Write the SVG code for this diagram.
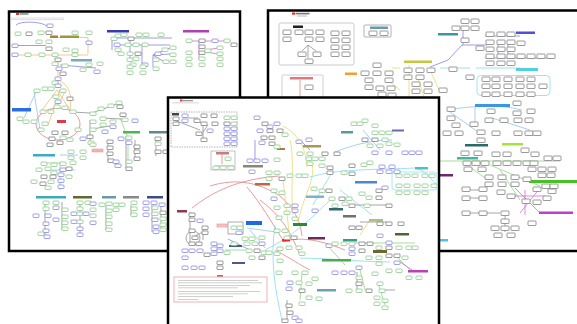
<svg xmlns="http://www.w3.org/2000/svg" xmlns:xlink="http://www.w3.org/1999/xlink" width="577" height="324" viewBox="0 0 577 324">
<style>
.frame{fill:#fff;stroke:#000;stroke-width:2.5}
.g{fill:#fff;stroke:#84c884;stroke-width:.75}
.b{fill:#fff;stroke:#8080e0;stroke-width:.75}
.k{fill:#fff;stroke:#7a7a7a;stroke-width:.75}
.ln{fill:none;stroke-width:.8}
.or{stroke:#f0bc70}.bl{stroke:#8484e6}.gr{stroke:#909090}.rd{stroke:#e68282}.cy{stroke:#84dcec}.ye{stroke:#e8d870}.gn{stroke:#90d480}.mg{stroke:#d070d0}.lb{stroke:#94c2ec}
.txt{fill:#bbb}
</style>
<defs>
<rect id="g" width="6" height="3.5" rx=".8" class="g"/>
<rect id="b" width="6" height="3.5" rx=".8" class="b"/>
<rect id="k" width="6" height="3.5" rx=".3" class="k"/>
<rect id="K" width="8" height="4.5" rx=".5" class="k"/>
</defs>

<!-- FRAME 1 -->
<g id="frame1">
<rect class="frame" x="9" y="11.5" width="231" height="239.5"/>
<rect x="16" y="13" width="3" height="2" fill="#e03030"/>
<rect x="19.5" y="13.2" width="9" height="1.5" fill="#888"/>
<rect x="10.5" y="18" width="53" height="1.8" fill="#fff" stroke="#bbb" stroke-width=".5"/>
<g id="f1-connectors">
<path class="ln bl" d="M16,25 C20,21 40,21 47,26 M14,45.5 H46 M112,38 H172 M115,45 H170 M112,38 V50 M153,55 L170,48 M153,55 L170,54 M153,55 L163,61 M153,55 L153,67 M130,40 V58 M142,45 V64 M60,65 L96,68"/>
<path class="ln or" d="M50,37.5 H88 V54 M15,55 H88 M58,62 V88 M57,90 L42,110 M57,90 L70,110 M60,90 L48,125 M66,90 L56,108 M58,80 C70,85 72,95 70,110"/>
<path class="ln lb" d="M34,92 L40,130 M36,92 L24,118 M60,155 H78 M60,162 V190 M45,170 H75"/>
<ellipse class="ln rd" cx="58" cy="124" rx="22" ry="16"/>
<path class="ln gr" d="M72,112 L90,113 M92,113 L117,104 M100,118 L122,119 M90,120 V142 M92,129 L110,126 M108,140 V162 M126,136 V168 M135,140 V160 M156,137 V156 M45,202 V236 M62,202 V230 M80,202 V236 M106,206 V230 M131,205 V215 M152,205 V232 M161,205 V230"/>
<path class="ln mg" d="M186,41 H231 M199,41 V60 M206,50 L218,48 M206,52 L218,54"/>
<path class="ln gn" d="M120,118 L128,138 M128,140 V160 M43,163 H66"/>
</g>
<g id="f1-bars">
<rect x="50" y="35.5" width="8" height="2.5" fill="#a8843a"/>
<rect x="60" y="35.5" width="19" height="2.5" fill="#9a9a3a"/>
<rect x="107" y="30" width="22" height="2.5" fill="#3a3ab0"/>
<rect x="183" y="30" width="26" height="2.5" fill="#b040b0"/>
<rect x="71" y="59" width="21" height="2.5" fill="#7aa8c0"/>
<rect x="12" y="108" width="19" height="3.5" fill="#2a6ee0"/>
<rect x="57" y="120" width="9" height="3" fill="#e03a4a"/>
<rect x="123" y="131" width="17" height="2.5" fill="#4cb84c"/>
<rect x="149" y="131" width="18" height="2.5" fill="#5f8a8a"/>
<rect x="92" y="149" width="11" height="3" fill="#f4b4b4" stroke="#e98a8a" stroke-width=".5"/>
<rect x="33" y="154" width="22" height="2.5" fill="#40a8c8"/>
<rect x="36" y="196" width="30" height="2.5" fill="#40a8b8"/>
<rect x="73" y="196" width="19" height="2.5" fill="#606a30"/>
<rect x="102" y="196" width="14" height="2.5" fill="#6a9aa8"/>
<rect x="123" y="196" width="16" height="2.5" fill="#888"/>
<rect x="147" y="196" width="16" height="2.5" fill="#3a4a8a"/>
</g>
<g id="f1-nodes">
<use href="#g" x="15" y="32"/><use href="#k" x="26" y="32"/><use href="#g" x="38" y="31"/><use href="#k" x="46" y="31"/><use href="#g" x="72" y="31"/><use href="#g" x="86" y="31"/>
<use href="#b" x="47" y="24"/><use href="#g" x="36" y="40"/><use href="#g" x="46" y="40"/><use href="#b" x="86" y="41"/><use href="#b" x="12" y="44"/>
<use href="#k" x="46" y="47"/><use href="#g" x="63" y="48"/><use href="#g" x="72" y="49"/><use href="#b" x="12" y="53"/><use href="#g" x="25" y="53"/><use href="#g" x="39" y="53"/><use href="#g" x="52" y="53"/><use href="#g" x="72" y="53"/>
<use href="#k" x="55" y="58"/><use href="#g" x="52" y="62"/><use href="#g" x="62" y="64"/><use href="#g" x="86" y="63"/><use href="#g" x="97" y="62"/><use href="#b" x="56" y="67"/><use href="#b" x="94" y="70"/><use href="#k" x="60" y="72"/><use href="#g" x="80" y="68"/>
<use href="#b" x="55" y="77"/><use href="#g" x="52" y="81"/><use href="#b" x="55" y="84"/><use href="#g" x="53" y="95"/><use href="#b" x="55" y="100"/><use href="#k" x="67" y="97"/>
<use href="#g" x="34" y="89"/><use href="#g" x="42" y="87"/><use href="#g" x="48" y="87"/><use href="#g" x="60" y="89"/>
<use href="#g" x="54" y="105"/><use href="#g" x="62" y="106"/><use href="#g" x="40" y="110"/><use href="#g" x="48" y="110"/><use href="#g" x="70" y="110"/>
<use href="#g" x="38" y="128"/><use href="#g" x="42" y="122"/><use href="#g" x="75" y="128"/><use href="#g" x="60" y="136"/><use href="#g" x="67" y="138"/>
<use href="#k" x="52" y="131"/><use href="#k" x="62" y="131"/><use href="#k" x="49" y="137"/><use href="#k" x="57" y="141"/><use href="#k" x="47" y="143"/><use href="#b" x="80" y="137"/><use href="#g" x="88" y="141"/>
<use href="#g" x="17" y="117"/><use href="#g" x="23" y="120"/><use href="#g" x="31" y="120"/>
<use href="#g" x="90" y="112"/><use href="#g" x="98" y="107"/><use href="#g" x="108" y="104"/><use href="#g" x="116" y="101"/><use href="#k" x="117" y="105"/><use href="#k" x="120" y="113"/>
<use href="#g" x="100" y="117"/><use href="#g" x="90" y="120"/><use href="#g" x="90" y="128"/><use href="#g" x="100" y="123"/><use href="#g" x="110" y="120"/><use href="#g" x="122" y="118"/><use href="#b" x="132" y="119"/><use href="#b" x="110" y="125"/><use href="#b" x="102" y="130"/>
<use href="#k" x="87" y="135"/><use href="#g" x="90" y="143"/><use href="#k" x="107" y="140"/><use href="#k" x="107" y="146"/><use href="#k" x="107" y="152"/><use href="#k" x="108" y="159"/><use href="#b" x="113" y="160"/><use href="#b" x="115" y="164"/>
<use href="#b" x="118" y="137"/><use href="#g" x="126" y="136"/><use href="#b" x="126" y="141"/><use href="#k" x="134" y="145"/><use href="#k" x="134" y="150"/><use href="#k" x="134" y="157"/><use href="#g" x="126" y="160"/><use href="#k" x="126" y="167"/>
<use href="#k" x="155" y="137"/><use href="#g" x="155" y="142"/><use href="#k" x="155" y="150"/><use href="#k" x="163" y="150"/>
<use href="#g" x="68" y="150"/><use href="#g" x="80" y="150"/><use href="#g" x="68" y="156"/><use href="#g" x="80" y="156"/><use href="#g" x="70" y="161"/>
<use href="#g" x="41" y="162"/><use href="#g" x="51" y="163"/><use href="#g" x="60" y="162"/><use href="#g" x="36" y="168"/><use href="#g" x="45" y="167"/><use href="#g" x="51" y="171"/><use href="#b" x="60" y="168"/><use href="#k" x="66" y="167"/>
<use href="#k" x="41" y="175"/><use href="#k" x="50" y="175"/><use href="#b" x="58" y="173"/><use href="#g" x="66" y="175"/><use href="#b" x="58" y="179"/><use href="#g" x="31" y="180"/><use href="#g" x="48" y="180"/><use href="#k" x="40" y="182"/><use href="#g" x="45" y="186"/><use href="#b" x="58" y="185"/>
<use href="#g" x="115" y="34"/><use href="#g" x="121" y="33"/><use href="#k" x="128" y="37"/><use href="#g" x="136" y="33"/><use href="#g" x="143" y="33"/><use href="#g" x="158" y="33"/><use href="#g" x="111" y="37"/>
<use href="#b" x="114" y="43"/><use href="#g" x="125" y="43"/><use href="#g" x="133" y="43"/><use href="#g" x="142" y="43"/><use href="#g" x="115" y="48"/>
<use href="#g" x="118" y="52"/><use href="#g" x="127" y="52"/><use href="#k" x="135" y="52"/><use href="#b" x="155" y="52"/><use href="#g" x="162" y="48"/><use href="#g" x="170" y="46"/><use href="#g" x="170" y="53"/>
<use href="#g" x="127" y="58"/><use href="#g" x="133" y="57"/><use href="#g" x="153" y="58"/><use href="#g" x="163" y="60"/><use href="#g" x="170" y="60"/><use href="#g" x="130" y="63"/><use href="#b" x="142" y="63"/><use href="#g" x="153" y="67"/>
<use href="#g" x="127" y="65"/><use href="#g" x="140" y="65"/><use href="#g" x="127" y="71"/><use href="#g" x="140" y="71"/>
<use href="#g" x="186" y="39"/><use href="#k" x="199" y="39"/><use href="#b" x="212" y="39"/><use href="#g" x="224" y="39"/><use href="#k" x="231" y="43"/>
<use href="#k" x="199" y="45"/><use href="#g" x="186" y="51"/><use href="#k" x="199" y="51"/><use href="#g" x="205" y="49"/><use href="#g" x="217" y="46"/><use href="#g" x="217" y="52"/>
<use href="#g" x="186" y="57"/><use href="#g" x="199" y="57"/><use href="#g" x="217" y="57"/><use href="#g" x="186" y="63"/><use href="#g" x="199" y="63"/><use href="#g" x="217" y="63"/>
<use href="#g" x="43" y="201"/><use href="#g" x="53" y="201"/><use href="#b" x="53" y="206"/><use href="#g" x="43" y="207"/><use href="#g" x="62" y="208"/>
<use href="#b" x="33" y="214"/><use href="#b" x="45" y="214"/><use href="#b" x="53" y="218"/><use href="#g" x="62" y="215"/><use href="#g" x="62" y="221"/><use href="#g" x="62" y="227"/>
<use href="#b" x="43" y="222"/><use href="#b" x="43" y="229"/><use href="#g" x="38" y="232"/><use href="#b" x="44" y="235"/>
<use href="#g" x="77" y="201"/><use href="#g" x="85" y="201"/><use href="#b" x="90" y="202"/><use href="#g" x="77" y="207"/><use href="#g" x="90" y="208"/>
<use href="#b" x="71" y="212"/><use href="#g" x="77" y="212"/><use href="#b" x="83" y="212"/><use href="#g" x="90" y="214"/><use href="#b" x="71" y="220"/><use href="#g" x="77" y="220"/><use href="#b" x="90" y="221"/><use href="#b" x="77" y="227"/><use href="#b" x="77" y="233"/>
<use href="#g" x="99" y="203"/><use href="#g" x="106" y="202"/><use href="#g" x="113" y="203"/><use href="#g" x="119" y="203"/><use href="#g" x="106" y="209"/><use href="#g" x="113" y="208"/><use href="#g" x="106" y="215"/><use href="#g" x="106" y="222"/><use href="#g" x="106" y="228"/>
<use href="#g" x="131" y="201"/><use href="#g" x="131" y="207"/><use href="#g" x="131" y="213"/>
<use href="#b" x="143" y="201"/><use href="#b" x="151" y="201"/><use href="#b" x="143" y="207"/><use href="#g" x="152" y="206"/><use href="#b" x="159" y="203"/>
<use href="#b" x="143" y="213"/><use href="#g" x="152" y="212"/><use href="#k" x="160" y="211"/><use href="#b" x="152" y="218"/><use href="#g" x="160" y="217"/><use href="#b" x="153" y="225"/><use href="#g" x="160" y="223"/><use href="#g" x="160" y="228"/><use href="#b" x="153" y="230"/>
</g>
</g>

<!-- FRAME 2 -->
<g id="frame2">
<rect class="frame" x="268" y="10.5" width="320" height="240.5"/>
<rect x="292" y="12.5" width="3" height="2.2" fill="#e03030"/>
<rect x="295.5" y="12.8" width="14" height="1.6" fill="#777"/>
<rect x="297" y="15.5" width="10" height="1" fill="#bbb"/>
<rect x="279" y="23" width="75" height="42" rx="2" fill="#fff" stroke="#c4c4c4" stroke-width=".9"/>
<rect x="293" y="25.5" width="10" height="2.5" fill="#222"/>
<rect x="364" y="25" width="27" height="12" rx="1" fill="#fff" stroke="#a0a0a0" stroke-width=".8"/>
<rect x="370" y="26.5" width="18" height="2.5" fill="#6a9aa8"/>
<rect x="282" y="75" width="41" height="30" rx="1" fill="#fff" stroke="#c4c4c4" stroke-width=".8"/>
<rect x="290" y="77" width="23" height="2.5" fill="#e07a7a"/>
<g id="f2-connectors">
<path class="ln rd" d="M300,80 V100"/>
<path class="ln gr" d="M308,45 L302,51 M308,45 L316,51 M308,45 V58"/>
<path class="ln ye" d="M392,68 H400 M409,65 V100 M430,70 L440,92 M418,79 L425,100 M385,78 L400,90"/>
<path class="ln bl" d="M430,67 L448,60 L462,45 L487,45 M463,28 V45 M485,36 H520 M485,58 H552 M498,44 V58 M508,44 V58"/>
<path class="ln cy" d="M440,68 H470 M476,68 H520"/>
<rect x="477" y="75.5" width="73" height="20" rx="4" fill="none" stroke="#a0e4f0" stroke-width="1"/>
<path class="ln lb" d="M447,110 C470,106 500,104 522,110 M475,107 V125 M450,112 L478,132 M492,118 L530,130"/>
<path class="ln gn" d="M440,161 H560 M490,165 L540,186 M500,170 L520,200 M470,167 L485,178"/>
<path class="ln mg" d="M515,188 L540,213 M520,213 L540,188 M510,196 H545 M525,190 V215"/>
<path class="ln gr" d="M463,190 H480 M463,198 H480 M463,213 H500 M505,216 V232"/>
</g>
<g id="f2-bars">
<rect x="345" y="72.5" width="12" height="2.5" fill="#f0a030"/>
<rect x="404" y="60.5" width="28" height="2.5" fill="#c8c840"/>
<rect x="438" y="33" width="20" height="2.5" fill="#3a9a9a"/>
<rect x="516" y="31.5" width="19" height="2.5" fill="#5050d0"/>
<rect x="516" y="68" width="22" height="3" fill="#50d0e0"/>
<rect x="475" y="104" width="35" height="3" fill="#3a98e0"/>
<rect x="465" y="144" width="23" height="2.5" fill="#2a6a6a"/>
<rect x="502" y="143" width="21" height="2.5" fill="#a8e040"/>
<rect x="457" y="157" width="21" height="2.5" fill="#40b8a0"/>
<rect x="529" y="180" width="48" height="3" fill="#48c028"/>
<rect x="539" y="211.5" width="34" height="2.5" fill="#c040c8"/>
<rect x="440" y="174" width="13" height="2.5" fill="#6a2a6a"/>
<rect x="440" y="239" width="8" height="2.5" fill="#50c0e0"/>
</g>
<g id="f2-nodes">
<use href="#K" x="283" y="30"/><use href="#K" x="295" y="30"/><use href="#K" x="305" y="30"/><use href="#K" x="316" y="30"/><use href="#K" x="283" y="37"/><use href="#K" x="305" y="37"/><use href="#K" x="316" y="37"/>
<use href="#K" x="331" y="31"/><use href="#K" x="342" y="31"/><use href="#K" x="331" y="38"/><use href="#K" x="342" y="38"/><use href="#K" x="331" y="45"/><use href="#K" x="342" y="45"/><use href="#K" x="331" y="52"/><use href="#K" x="342" y="52"/>
<use href="#K" x="298" y="52"/><use href="#K" x="313" y="52"/><use href="#K" x="305" y="59"/>
<use href="#K" x="369" y="31"/><use href="#K" x="380" y="31"/><use href="#K" x="305" y="85"/>
<use href="#K" x="361" y="71"/><use href="#K" x="373" y="71"/><use href="#K" x="385" y="71"/><use href="#K" x="373" y="63"/><use href="#K" x="365" y="78"/><use href="#K" x="385" y="78"/><use href="#K" x="365" y="85"/><use href="#K" x="376" y="86"/><use href="#K" x="387" y="86"/><use href="#K" x="378" y="92"/><use href="#K" x="388" y="93"/>
<use href="#K" x="404" y="68"/><use href="#K" x="416" y="68"/><use href="#K" x="427" y="68"/><use href="#K" x="404" y="75"/><use href="#K" x="416" y="75"/><use href="#K" x="412" y="82"/><use href="#K" x="424" y="82"/><use href="#K" x="412" y="89"/><use href="#K" x="424" y="89"/><use href="#K" x="439" y="88"/><use href="#K" x="449" y="67"/><use href="#K" x="466" y="75"/>
<use href="#K" x="461" y="19"/><use href="#K" x="471" y="19"/><use href="#K" x="452" y="26"/><use href="#K" x="461" y="26"/><use href="#K" x="471" y="26"/><use href="#K" x="461" y="38"/><use href="#K" x="476" y="46"/>
<use href="#K" x="486" y="32"/><use href="#K" x="497" y="32"/><use href="#K" x="507" y="32"/><use href="#K" x="486" y="40"/><use href="#K" x="497" y="40"/><use href="#K" x="507" y="40"/><use href="#K" x="517" y="41"/>
<use href="#K" x="486" y="47"/><use href="#K" x="497" y="47"/><use href="#K" x="507" y="47"/><use href="#K" x="486" y="54"/><use href="#K" x="497" y="54"/><use href="#K" x="507" y="54"/><use href="#K" x="517" y="54"/><use href="#K" x="527" y="54"/><use href="#K" x="537" y="54"/><use href="#K" x="547" y="54"/>
<use href="#K" x="486" y="61"/><use href="#K" x="497" y="61"/><use href="#K" x="507" y="61"/>
<use href="#K" x="482" y="77"/><use href="#K" x="492" y="77"/><use href="#K" x="504" y="77"/><use href="#K" x="516" y="77"/><use href="#K" x="527" y="77"/>
<use href="#K" x="482" y="84"/><use href="#K" x="492" y="84"/><use href="#K" x="504" y="84"/><use href="#K" x="516" y="84"/><use href="#K" x="527" y="84"/><use href="#K" x="539" y="84"/>
<use href="#K" x="482" y="92"/><use href="#K" x="492" y="92"/><use href="#K" x="504" y="92"/><use href="#K" x="516" y="92"/><use href="#K" x="527" y="92"/>
<use href="#K" x="513" y="101"/><use href="#K" x="513" y="111"/><use href="#K" x="527" y="109"/><use href="#K" x="487" y="109"/><use href="#K" x="447" y="107"/><use href="#K" x="447" y="116"/><use href="#K" x="452" y="123"/><use href="#K" x="443" y="131"/><use href="#K" x="455" y="131"/>
<use href="#K" x="470" y="122"/><use href="#K" x="477" y="130"/><use href="#K" x="485" y="118"/><use href="#K" x="500" y="118"/><use href="#K" x="514" y="118"/><use href="#K" x="525" y="118"/><use href="#K" x="492" y="131"/><use href="#K" x="514" y="131"/><use href="#K" x="525" y="131"/><use href="#K" x="533" y="131"/><use href="#K" x="477" y="138"/>
<use href="#K" x="461" y="151"/><use href="#K" x="474" y="151"/><use href="#K" x="492" y="152"/><use href="#K" x="503" y="152"/><use href="#K" x="521" y="148"/><use href="#K" x="531" y="152"/><use href="#K" x="544" y="156"/><use href="#K" x="553" y="156"/>
<use href="#K" x="463" y="161"/><use href="#K" x="472" y="161"/><use href="#K" x="481" y="161"/><use href="#K" x="493" y="161"/><use href="#K" x="503" y="161"/><use href="#K" x="513" y="161"/><use href="#K" x="523" y="161"/><use href="#K" x="530" y="161"/>
<use href="#K" x="528" y="167"/><use href="#K" x="538" y="167"/><use href="#K" x="548" y="167"/><use href="#K" x="464" y="167"/><use href="#K" x="478" y="167"/><use href="#K" x="538" y="173"/><use href="#K" x="547" y="173"/>
<use href="#K" x="485" y="175"/><use href="#K" x="498" y="175"/><use href="#K" x="511" y="175"/><use href="#K" x="523" y="177"/><use href="#K" x="485" y="182"/><use href="#K" x="498" y="182"/><use href="#K" x="511" y="182"/><use href="#K" x="542" y="184"/><use href="#K" x="550" y="184"/>
<use href="#K" x="462" y="187"/><use href="#K" x="479" y="187"/><use href="#K" x="462" y="196"/><use href="#K" x="479" y="196"/><use href="#K" x="462" y="211"/><use href="#K" x="479" y="211"/><use href="#K" x="501" y="211"/><use href="#K" x="501" y="219"/>
<use href="#K" x="491" y="226"/><use href="#K" x="501" y="226"/><use href="#K" x="511" y="226"/><use href="#K" x="494" y="233"/><use href="#K" x="507" y="233"/>
<use href="#K" x="497" y="190"/><use href="#K" x="507" y="194"/><use href="#K" x="522" y="199"/><use href="#K" x="533" y="200"/><use href="#K" x="533" y="187"/><use href="#K" x="548" y="189"/><use href="#K" x="543" y="196"/><use href="#K" x="528" y="221"/>
</g>
</g>

<!-- FRAME 3 -->
<g id="frame3">
<rect class="frame" x="168" y="97.5" width="271" height="240"/>
<rect x="180" y="99.5" width="2.5" height="2" fill="#e03030"/>
<rect x="183" y="100" width="10" height="1.3" fill="#999"/>
<rect x="172" y="102.5" width="27" height=".8" fill="#ccc"/>
<rect x="171" y="112" width="66" height="35" fill="#fff" stroke="#999" stroke-width=".7" stroke-dasharray="1.5,1"/>
<rect x="172" y="113" width="7" height="2.5" fill="#444"/>
<rect x="211" y="151" width="24" height="19" fill="#fff" stroke="#aaa" stroke-width=".7"/>
<rect x="216" y="152" width="13" height="2.5" fill="#c08080"/>
<g id="f3-connectors">
<path class="ln gr" d="M188,118 H198 M198,120 L204,126 M208,125 L203,132 M203,126 V139 M174,120 L200,130"/>
<path class="ln rd" d="M222,154 V164 M215,166 H234 M192,208 C212,192 238,179 279,176 M210,186 C236,178 258,182 280,196 C294,208 300,220 302,236 M247,187 C262,205 270,220 283,240 M283,242 C300,236 320,240 345,250 M275,250 C290,258 300,265 310,270 M260,200 C280,215 290,230 300,255"/>
<path class="ln ye" d="M283,126 C300,135 306,150 307,167 M290,140 C295,160 290,190 293,215 M310,160 C320,175 300,200 298,225 M283,180 L290,240 M370,220 L360,235"/>
<path class="ln cy" d="M333,170 C325,185 318,195 313,205 M310,177 C340,168 380,170 415,168 C425,170 430,178 436,184 M330,200 C310,220 290,238 265,250 M275,225 C270,260 275,290 282,320 M340,190 L372,215 M300,258 C330,258 360,262 390,262"/>
<path class="ln lb" d="M335,152 C350,146 370,140 392,140 M363,130 L380,150 M247,228 L276,232 M250,230 L265,248"/>
<path class="ln bl" d="M228,239 L250,250 M255,140 V160 M300,140 L310,150"/>
<path class="ln gn" d="M350,243 H415 M395,255 L410,270 M360,270 L365,290 M327,245 L345,265 M378,283 L385,305 M302,273 L300,300 M225,250 L245,250"/>
<path class="ln gr" d="M190,212 V244 M193,237 L203,232 M203,227 V240 M350,205 H388 M360,222 H387 M380,290 H395 M357,272 V290 M287,300 V320"/>
<ellipse class="ln gr" cx="193" cy="238" rx="7" ry="7"/>
<path class="ln mg" d="M400,262 L415,272"/>
<rect x="392" y="172" width="45" height="18" rx="3" fill="none" stroke="#a0e4f0" stroke-width=".9"/>
<rect x="228" y="222" width="15" height="12" fill="none" stroke="#888" stroke-width=".7"/>
</g>
<g id="f3-bars">
<rect x="303" y="145" width="18" height="2.5" fill="#a89a50"/>
<rect x="277" y="148" width="8" height="2" fill="#b07a3a"/>
<rect x="243" y="165" width="20" height="2.5" fill="#8a8a6a"/>
<rect x="341" y="131" width="12" height="2.5" fill="#5a9a9a"/>
<rect x="392" y="129.5" width="12" height="2" fill="#6a6ab0"/>
<rect x="415" y="167" width="13" height="2.5" fill="#50c0c8"/>
<rect x="255" y="183" width="15" height="2.5" fill="#b86a40"/>
<rect x="355" y="181" width="22" height="2.5" fill="#4a88c8"/>
<rect x="306" y="195.5" width="18" height="2.5" fill="#80b0d0"/>
<rect x="329" y="208" width="14" height="2.5" fill="#306a6a"/>
<rect x="343" y="215" width="13" height="2.5" fill="#707070"/>
<rect x="177" y="210" width="10" height="2.5" fill="#8a3a4a"/>
<rect x="217" y="224" width="10" height="3" fill="#f6c6c6" stroke="#e08080" stroke-width=".5"/>
<rect x="246" y="221" width="16" height="4" fill="#1a6ae0"/>
<rect x="293" y="223" width="14" height="3" fill="#2a8a3a"/>
<rect x="369" y="219" width="14" height="2.5" fill="#a8c080"/>
<rect x="395" y="233" width="14" height="2.5" fill="#4a6a2a"/>
<rect x="308" y="237" width="17" height="2.5" fill="#6a2a5a"/>
<rect x="282" y="239" width="8" height="2.5" fill="#e03030"/>
<rect x="343" y="239" width="14" height="2.5" fill="#3a9a8a"/>
<rect x="229" y="245" width="13" height="2" fill="#3a6a6a"/>
<rect x="373" y="250" width="14" height="3" fill="#6a6a30"/>
<rect x="322" y="259" width="29" height="2.5" fill="#50a850"/>
<rect x="232" y="262" width="13" height="2" fill="#4a5a8a"/>
<rect x="408" y="270" width="20" height="2.5" fill="#b840b8"/>
<rect x="317" y="289" width="19" height="2.5" fill="#70a0b0"/>
</g>
<g id="f3-legend">
<rect x="174" y="277" width="93" height="25" fill="#fff" stroke="#e8a0a0" stroke-width=".8"/>
<rect x="217" y="275" width="6" height="1.6" fill="#d06060"/>
<rect x="178" y="280" width="80" height=".7" class="txt"/>
<rect x="178" y="282.5" width="84" height=".7" class="txt"/>
<rect x="178" y="285" width="72" height=".7" class="txt"/>
<rect x="178" y="287.5" width="60" height=".7" class="txt"/>
<rect x="178" y="291" width="82" height=".7" class="txt"/>
<rect x="178" y="293.5" width="70" height=".7" class="txt"/>
<rect x="178" y="296" width="55" height=".7" class="txt"/>
<rect x="178" y="299" width="20" height=".7" class="txt"/>
</g>
<g id="f3-nodes">
<use href="#b" x="182" y="114"/><use href="#b" x="182" y="119"/><use href="#k" x="173" y="117"/><use href="#k" x="173" y="122"/><use href="#k" x="194" y="119"/><use href="#k" x="201" y="114"/><use href="#k" x="211" y="114"/><use href="#k" x="201" y="122"/><use href="#k" x="212" y="122"/><use href="#b" x="207" y="129"/><use href="#k" x="196" y="132"/><use href="#k" x="201" y="138"/>
<use href="#g" x="224" y="116"/><use href="#g" x="231" y="116"/><use href="#k" x="224" y="122"/><use href="#g" x="231" y="122"/><use href="#b" x="224" y="127"/><use href="#b" x="231" y="127"/><use href="#b" x="224" y="132"/><use href="#b" x="231" y="132"/><use href="#b" x="224" y="137"/><use href="#b" x="231" y="137"/><use href="#b" x="224" y="142"/><use href="#b" x="231" y="142"/>
<use href="#g" x="225" y="157"/><use href="#g" x="213" y="166"/><use href="#g" x="220" y="166"/><use href="#g" x="228" y="166"/>
<use href="#b" x="254" y="116"/><use href="#k" x="262" y="122"/><use href="#b" x="274" y="122"/><use href="#b" x="267" y="125"/><use href="#b" x="257" y="129"/><use href="#k" x="267" y="129"/><use href="#k" x="277" y="129"/><use href="#g" x="282" y="133"/>
<use href="#k" x="261" y="136"/><use href="#k" x="269" y="136"/><use href="#b" x="259" y="141"/><use href="#k" x="269" y="142"/><use href="#g" x="274" y="145"/><use href="#b" x="296" y="140"/><use href="#b" x="306" y="138"/>
<use href="#b" x="247" y="159"/><use href="#b" x="254" y="159"/><use href="#b" x="262" y="159"/><use href="#g" x="274" y="158"/><use href="#b" x="249" y="170"/>
<use href="#g" x="297" y="152"/><use href="#g" x="307" y="152"/><use href="#g" x="306" y="157"/><use href="#g" x="312" y="157"/><use href="#g" x="319" y="157"/><use href="#k" x="322" y="152"/><use href="#k" x="334" y="152"/>
<use href="#g" x="307" y="162"/><use href="#g" x="319" y="164"/><use href="#k" x="327" y="166"/><use href="#k" x="327" y="171"/><use href="#k" x="349" y="164"/><use href="#k" x="349" y="172"/><use href="#g" x="341" y="171"/>
<use href="#g" x="266" y="171"/><use href="#g" x="274" y="171"/><use href="#g" x="287" y="174"/><use href="#g" x="296" y="174"/><use href="#g" x="302" y="174"/><use href="#k" x="279" y="177"/><use href="#g" x="266" y="177"/>
<use href="#g" x="351" y="122"/><use href="#g" x="357" y="122"/><use href="#g" x="362" y="119"/><use href="#g" x="372" y="124"/><use href="#g" x="372" y="131"/><use href="#g" x="379" y="131"/><use href="#g" x="386" y="131"/>
<use href="#k" x="362" y="138"/><use href="#k" x="372" y="138"/><use href="#g" x="382" y="138"/><use href="#g" x="367" y="144"/><use href="#g" x="377" y="144"/><use href="#g" x="386" y="142"/><use href="#g" x="394" y="143"/>
<use href="#b" x="372" y="151"/><use href="#b" x="386" y="151"/><use href="#b" x="402" y="151"/><use href="#b" x="409" y="151"/><use href="#b" x="416" y="151"/>
<use href="#g" x="361" y="163"/><use href="#g" x="367" y="161"/><use href="#b" x="379" y="165"/><use href="#b" x="389" y="165"/><use href="#b" x="394" y="170"/><use href="#b" x="386" y="170"/><use href="#b" x="377" y="170"/>
<use href="#g" x="396" y="174"/><use href="#g" x="404" y="174"/><use href="#g" x="412" y="174"/><use href="#g" x="422" y="174"/><use href="#g" x="429" y="174"/>
<use href="#g" x="396" y="184"/><use href="#g" x="404" y="184"/><use href="#g" x="414" y="184"/><use href="#g" x="422" y="184"/><use href="#g" x="431" y="184"/>
<use href="#g" x="396" y="191"/><use href="#g" x="404" y="191"/><use href="#g" x="414" y="191"/><use href="#g" x="422" y="191"/>
<use href="#g" x="311" y="187"/><use href="#g" x="319" y="189"/><use href="#k" x="326" y="189"/><use href="#g" x="329" y="197"/><use href="#k" x="339" y="197"/><use href="#g" x="346" y="197"/><use href="#g" x="359" y="192"/><use href="#g" x="366" y="196"/>
<use href="#k" x="376" y="189"/><use href="#k" x="376" y="196"/><use href="#b" x="382" y="186"/><use href="#k" x="386" y="204"/><use href="#k" x="349" y="204"/><use href="#g" x="342" y="202"/><use href="#g" x="332" y="204"/><use href="#g" x="364" y="204"/>
<use href="#g" x="271" y="189"/><use href="#g" x="279" y="191"/><use href="#b" x="271" y="197"/><use href="#g" x="274" y="206"/><use href="#g" x="284" y="204"/><use href="#b" x="292" y="204"/><use href="#b" x="292" y="209"/><use href="#g" x="284" y="211"/><use href="#g" x="276" y="216"/><use href="#g" x="292" y="217"/><use href="#b" x="312" y="209"/>
<use href="#k" x="189" y="213"/><use href="#k" x="189" y="218"/><use href="#k" x="189" y="229"/><use href="#k" x="192" y="236"/><use href="#b" x="197" y="219"/><use href="#k" x="202" y="226"/><use href="#k" x="202" y="231"/><use href="#k" x="189" y="242"/><use href="#k" x="196" y="242"/>
<use href="#b" x="182" y="249"/><use href="#b" x="189" y="249"/><use href="#b" x="197" y="249"/><use href="#b" x="182" y="256"/><use href="#k" x="204" y="253"/><use href="#b" x="182" y="266"/><use href="#b" x="191" y="266"/><use href="#b" x="199" y="266"/><use href="#k" x="217" y="261"/><use href="#k" x="217" y="266"/>
<use href="#b" x="211" y="242"/><use href="#b" x="217" y="244"/><use href="#b" x="211" y="247"/><use href="#b" x="211" y="252"/><use href="#b" x="217" y="249"/><use href="#g" x="224" y="251"/><use href="#g" x="231" y="242"/>
<use href="#g" x="231" y="226"/><use href="#g" x="237" y="226"/><use href="#b" x="236" y="231"/>
<use href="#g" x="242" y="237"/><use href="#g" x="249" y="237"/><use href="#g" x="259" y="236"/><use href="#g" x="244" y="242"/><use href="#g" x="252" y="242"/><use href="#b" x="259" y="242"/><use href="#g" x="246" y="249"/><use href="#k" x="254" y="249"/><use href="#g" x="261" y="251"/><use href="#g" x="249" y="256"/><use href="#k" x="259" y="256"/><use href="#g" x="266" y="251"/>
<use href="#g" x="274" y="229"/><use href="#g" x="282" y="229"/><use href="#g" x="284" y="236"/><use href="#k" x="291" y="236"/><use href="#g" x="277" y="247"/><use href="#g" x="286" y="246"/><use href="#g" x="296" y="246"/><use href="#g" x="299" y="252"/><use href="#g" x="274" y="252"/><use href="#g" x="277" y="259"/>
<use href="#g" x="276" y="271"/><use href="#g" x="292" y="271"/><use href="#g" x="302" y="271"/><use href="#b" x="287" y="281"/><use href="#g" x="296" y="281"/><use href="#g" x="306" y="282"/><use href="#b" x="286" y="287"/><use href="#k" x="299" y="289"/>
<use href="#g" x="306" y="296"/><use href="#g" x="316" y="297"/><use href="#g" x="299" y="302"/><use href="#k" x="286" y="304"/><use href="#k" x="287" y="311"/><use href="#b" x="292" y="316"/><use href="#b" x="296" y="319"/><use href="#k" x="282" y="319"/><use href="#g" x="312" y="277"/>
<use href="#b" x="326" y="244"/><use href="#g" x="332" y="242"/><use href="#g" x="341" y="242"/><use href="#g" x="349" y="242"/><use href="#k" x="359" y="242"/><use href="#k" x="367" y="242"/><use href="#b" x="349" y="247"/><use href="#b" x="349" y="252"/><use href="#k" x="359" y="249"/>
<use href="#g" x="376" y="246"/><use href="#k" x="386" y="246"/><use href="#g" x="396" y="246"/><use href="#g" x="406" y="246"/><use href="#g" x="412" y="246"/><use href="#b" x="386" y="241"/><use href="#b" x="377" y="234"/>
<use href="#k" x="349" y="226"/><use href="#k" x="356" y="226"/><use href="#k" x="377" y="222"/><use href="#k" x="386" y="222"/><use href="#k" x="398" y="222"/>
<use href="#g" x="366" y="256"/><use href="#g" x="376" y="256"/><use href="#k" x="386" y="254"/><use href="#k" x="394" y="254"/><use href="#g" x="402" y="256"/><use href="#b" x="394" y="261"/><use href="#g" x="376" y="262"/>
<use href="#b" x="332" y="271"/><use href="#b" x="341" y="271"/><use href="#b" x="349" y="271"/><use href="#b" x="356" y="266"/><use href="#g" x="356" y="276"/><use href="#k" x="356" y="282"/>
<use href="#g" x="346" y="289"/><use href="#g" x="356" y="289"/><use href="#k" x="366" y="289"/><use href="#g" x="377" y="282"/><use href="#g" x="372" y="272"/><use href="#g" x="386" y="269"/><use href="#g" x="396" y="269"/><use href="#g" x="406" y="276"/><use href="#g" x="416" y="276"/>
<use href="#g" x="379" y="289"/><use href="#g" x="374" y="296"/><use href="#g" x="382" y="299"/><use href="#g" x="374" y="302"/><use href="#g" x="382" y="306"/>
</g>
</g>
</svg>
